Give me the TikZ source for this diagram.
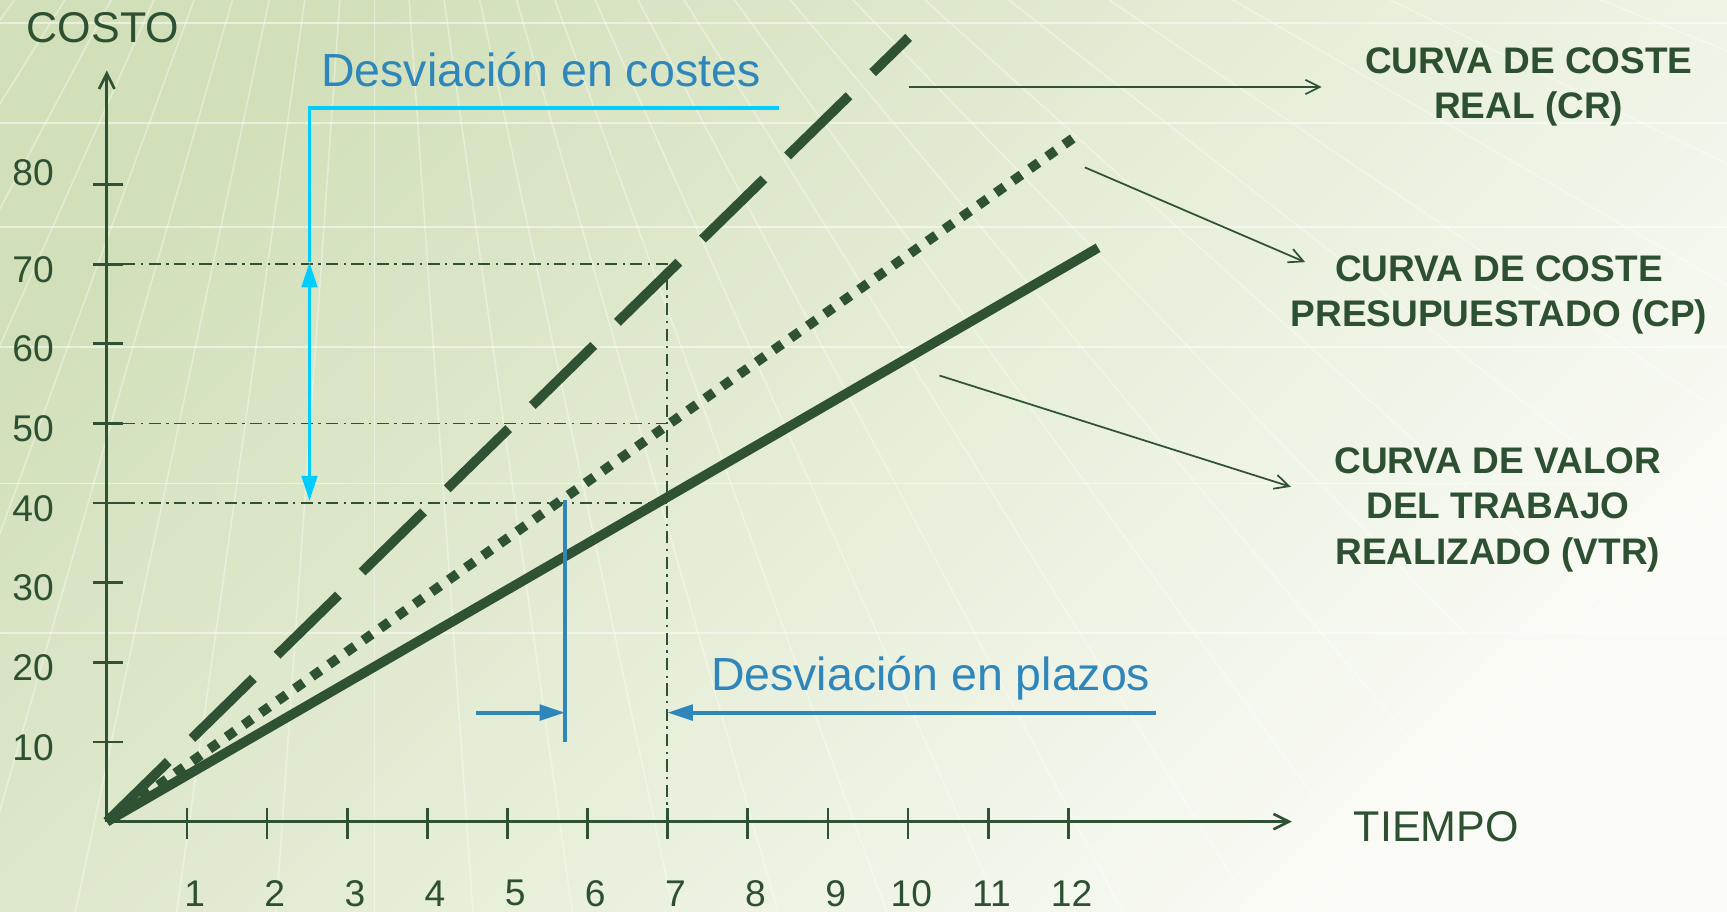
\documentclass[tikz,border=0pt]{standalone}
\usepackage{fontspec}
\setmainfont{Liberation Sans}
\usetikzlibrary{arrows.meta}
\definecolor{bgA}{RGB}{210,224,186}
\definecolor{bgB}{RGB}{250,251,246}
\definecolor{lineg}{RGB}{48,82,52}
\definecolor{textg}{RGB}{46,80,50}
\definecolor{cyanl}{RGB}{0,204,255}
\definecolor{bluel}{RGB}{46,134,186}
\begin{document}
\begin{tikzpicture}[x=0.01cm, y=-0.01cm,
  axis/.style={draw=lineg, line width=0.7pt},
  tickmark/.style={draw=lineg, line width=0.7pt},
  curve/.style={draw=lineg, line width=2.5pt},
  guide/.style={draw=lineg, line width=0.5pt, dash pattern=on 1.1mm off 0.5mm on 0.2mm off 0.5mm},
  pointer/.style={draw=lineg, line width=0.45pt, -{Straight Barb[length=1.3mm,width=1.3mm]}},
  ticklabel/.style={text=textg, font=\fontsize{9.6}{11}\selectfont, inner sep=0},
  axistitle/.style={text=textg, font=\fontsize{11.1}{13}\selectfont, inner sep=0},
  curvelabel/.style={text=textg, font=\bfseries\fontsize{9.55}{11.67}\selectfont, align=center, inner sep=0, anchor=north},
  devtext/.style={text=bluel, font=\fontsize{12}{14}\selectfont, inner sep=0, anchor=base},
  costline/.style={draw=cyanl, line width=0.9pt},
  planline/.style={draw=bluel, line width=1pt},
  tri/.tip={Triangle[length=2.3mm,width=1.4mm]}
]
\useasboundingbox (0,0) rectangle (1568,828);
% background
\shade[top color=bgA, bottom color=bgB, shading angle=45] (0,0) rectangle (1568,828);
\begin{scope}
  \clip (0,0) rectangle (1568,828);
  \coordinate (apex) at (340,-450);
  \foreach \a in {22,26,...,158} \draw[white, line width=0.4pt, opacity=0.38] (apex) -- ++(\a:2600);
  \foreach \yy in {21,112,206,315,439,575} \draw[white, line width=0.5pt, opacity=0.5] (0,\yy) -- (1568,\yy);
\end{scope}

% axes
\coordinate (O) at (97,746);
\coordinate (Ytop) at (97,64);
\coordinate (Xend) at (1173,746);
\draw[axis, -{Straight Barb[length=1.4mm,width=1.4mm]}] (O) -- (Ytop);
\draw[axis, -{Straight Barb[length=1.4mm,width=1.4mm]}] (O) -- (Xend);
\foreach \i in {1,...,12} \draw[tickmark] ({97+72.75*\i},734) -- ({97+72.75*\i},762);
\foreach \c in {1,...,8} \draw[tickmark] (84,{746-72.3*\c}) -- (112,{746-72.3*\c});

% tick labels
\foreach \c/\yy in {10/679, 20/606.5, 30/534, 40/462, 50/389.5, 60/317, 70/245, 80/157}
  \node[ticklabel] (yl\c) at (30,\yy) {\c};
\foreach \i in {1,...,9} \node[ticklabel] (xl\i) at ({97+72.75*\i+7},811) {\i};
\foreach \i in {10,11,12} \node[ticklabel] (xl\i) at ({97+72.75*\i+3},811) {\i};

\node[axistitle] (costo) at (93.5,25) {COSTO};
\node[axistitle] (tiempo) at (1304,751) {TIEMPO};

% guides
\coordinate (G70a) at (112,240);
\coordinate (G70b) at (606,240);
\coordinate (G7b) at (606,746);
\coordinate (G50a) at (112,384.5);
\coordinate (G50b) at (606,384.5);
\coordinate (G40a) at (112,456.8);
\coordinate (G40b) at (606,456.8);
\draw[guide] (G70a) -- (G70b) -- (G7b);
\draw[guide] (G50a) -- (G50b);
\draw[guide] (G40a) -- (G40b);

% curves
\coordinate (CRend) at (825,34);
\coordinate (CPend) at (975,125);
\coordinate (VTRend) at (997,225);
\draw[curve, dash pattern=on 7.8mm off 3mm] (O) -- (CRend);
\draw[curve, dash pattern=on 0.95mm off 0.95mm] (O) -- (CPend);
\draw[curve] (O) -- (VTRend);

% curve labels
\node[curvelabel] (lblCR) at (1388,42.5) {CURVA DE COSTE\\REAL (CR)};
\node[curvelabel] (lblCP) at (1361,231.5) {CURVA DE COSTE\\PRESUPUESTADO (CP)};
\node[curvelabel] (lblVTR) at (1360,406) {CURVA DE VALOR\\DEL TRABAJO\\REALIZADO (VTR)};

\coordinate (p1s) at (825,79);
\coordinate (p1e) at (1200,79);
\coordinate (p2s) at (985,152);
\coordinate (p2e) at (1185,238);
\coordinate (p3s) at (853,341);
\coordinate (p3e) at (1172,442);
\draw[pointer] (p1s) -- (p1e);
\draw[pointer] (p2s) -- (p2e);
\draw[pointer] (p3s) -- (p3e);

% cost deviation
\coordinate (c1) at (707,98);
\coordinate (c70) at (281,238);
\coordinate (c40) at (281,455);
\draw[costline] (c1) -| (c70);
\draw[costline, tri-tri] (c70) -- (c40);
\node[devtext] (devC) at (491,79) {Desviación en costes};

% schedule deviation
\coordinate (v1) at (513,454);
\coordinate (v2) at (513,674);
\coordinate (hL) at (432,647);
\coordinate (hV) at (513,647);
\coordinate (h7) at (606,647);
\coordinate (hR) at (1050,647);
\draw[planline] (v1) -- (v2);
\draw[planline, -tri] (hL) -- (hV);
\draw[planline, -tri] (hR) -- (h7);
\node[devtext] (devP) at (845,627) {Desviación en plazos};
\end{tikzpicture}
\end{document}
